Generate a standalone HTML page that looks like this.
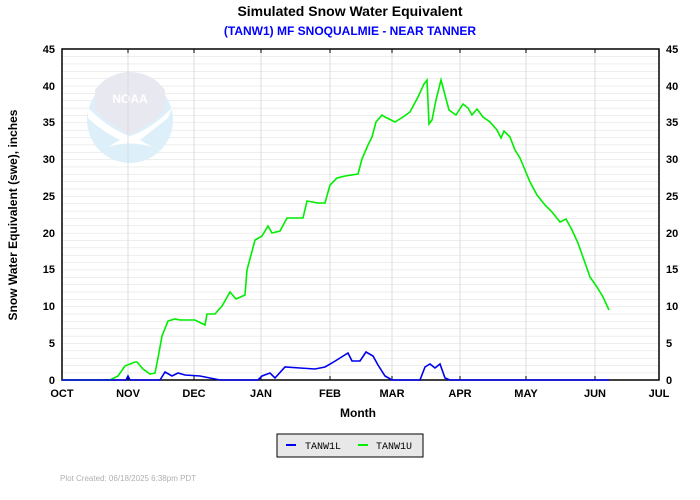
<!DOCTYPE html>
<html><head><style>
body{margin:0;background:#fff;}
svg{display:block;font-family:"Liberation Sans",Arial,sans-serif;}
</style></head><body>
<svg width="700" height="500" xmlns="http://www.w3.org/2000/svg">
<defs>
<pattern id="hg" x="62" y="49" width="700" height="7.356" patternUnits="userSpaceOnUse">
<line x1="0" y1="0" x2="700" y2="0" stroke="#dcdcdc" stroke-width="1"/>
</pattern>
</defs>
<text x="350" y="16" text-anchor="middle" font-size="14" font-weight="bold">Simulated Snow Water Equivalent</text>
<text x="350" y="35" text-anchor="middle" font-size="12" font-weight="bold" fill="#0000ff">(TANW1) MF SNOQUALMIE - NEAR TANNER</text>
<rect x="62" y="49" width="597" height="331" fill="url(#hg)"/>
<g>
<circle cx="130" cy="120" r="43" fill="#ddf0f9"/>
<path d="M95,90 A43,43 0 0 1 165,90 L165,110 Q150,125 130,135 Q110,125 95,110 Z" fill="#e8e8f0"/>
<path d="M88,108 Q110,130 130,136 Q150,130 172,108 L168,118 Q150,132 140,140 L152,147 Q130,140 108,147 L120,140 Q100,130 88,118 Z" fill="#fff"/>
<text x="130" y="103" text-anchor="middle" font-size="12" font-weight="bold" fill="#fff">NOAA</text>
</g>
<g stroke="#dcdcdc" stroke-width="1">
<line x1="128" y1="49" x2="128" y2="380"/><line x1="194" y1="49" x2="194" y2="380"/>
<line x1="261" y1="49" x2="261" y2="380"/><line x1="330" y1="49" x2="330" y2="380"/>
<line x1="392" y1="49" x2="392" y2="380"/><line x1="460" y1="49" x2="460" y2="380"/>
<line x1="526" y1="49" x2="526" y2="380"/><line x1="595" y1="49" x2="595" y2="380"/>
</g>
<rect x="62" y="49" width="597" height="331" fill="none" stroke="#000" stroke-width="1.5"/>
<g stroke="#000" stroke-width="1">
<line x1="128" y1="49" x2="128" y2="53"/><line x1="194" y1="49" x2="194" y2="53"/><line x1="261" y1="49" x2="261" y2="53"/><line x1="330" y1="49" x2="330" y2="53"/><line x1="392" y1="49" x2="392" y2="53"/><line x1="460" y1="49" x2="460" y2="53"/><line x1="526" y1="49" x2="526" y2="53"/><line x1="595" y1="49" x2="595" y2="53"/>
<line x1="128" y1="380" x2="128" y2="376"/><line x1="194" y1="380" x2="194" y2="376"/><line x1="261" y1="380" x2="261" y2="376"/><line x1="330" y1="380" x2="330" y2="376"/><line x1="392" y1="380" x2="392" y2="376"/><line x1="460" y1="380" x2="460" y2="376"/><line x1="526" y1="380" x2="526" y2="376"/><line x1="595" y1="380" x2="595" y2="376"/>
</g>
<g font-size="11" font-weight="bold" text-anchor="end">
<text x="55" y="384">0</text><text x="55" y="347">5</text><text x="55" y="310">10</text><text x="55" y="273">15</text><text x="55" y="237">20</text><text x="55" y="200">25</text><text x="55" y="163">30</text><text x="55" y="126">35</text><text x="55" y="90">40</text><text x="55" y="53">45</text>
</g>
<g font-size="11" font-weight="bold" text-anchor="start">
<text x="666" y="384">0</text><text x="666" y="347">5</text><text x="666" y="310">10</text><text x="666" y="273">15</text><text x="666" y="237">20</text><text x="666" y="200">25</text><text x="666" y="163">30</text><text x="666" y="126">35</text><text x="666" y="90">40</text><text x="666" y="53">45</text>
</g>
<g font-size="11" font-weight="bold" text-anchor="middle">
<text x="62" y="397">OCT</text><text x="128" y="397">NOV</text><text x="194" y="397">DEC</text><text x="261" y="397">JAN</text><text x="330" y="397">FEB</text><text x="392" y="397">MAR</text><text x="460" y="397">APR</text><text x="526" y="397">MAY</text><text x="595" y="397">JUN</text><text x="659" y="397">JUL</text>
</g>
<text x="358" y="417" text-anchor="middle" font-size="12" font-weight="bold">Month</text>
<text transform="translate(17,215) rotate(-90)" text-anchor="middle" font-size="12" font-weight="bold">Snow Water Equivalent (swe),  inches</text>
<polyline fill="none" stroke="#00ee00" stroke-width="1.6" points="62,380 110,380 118,376 125,366 135,362 137,362 143,369 150,374 155,373 158,358 162,336 168,321 175,319 180,320 195,320 205,325 207,314 215,314 222,306 230,292 236,299 245,295 247,270 255,240 262,236 268,226 272,233 280,231 287,218 303,218 307,201 318,203 325,203 330,185 337,178 345,176 358,174 362,159 368,145 372,137 376,122 382,115 385,117 395,122 403,117 410,112 418,97 424,84 427,80 429,124 432,120 436,100 441,80 445,95 449,110 456,115 463,104 468,108 472,115 477,109 483,117 490,122 497,130 501,138 504,131 510,137 515,150 520,158 525,170 530,182 537,195 545,205 552,212 560,222 566,219 572,230 578,243 584,260 590,277 597,287 603,297 609,310"/>
<polyline fill="none" stroke="#0000ee" stroke-width="1.6" points="62,380 126,380 128,376 130,380 160,380 165,372 172,376 178,373 185,375 200,376 210,378 220,380 258,380 262,376 270,373 275,378 285,367 300,368 315,369 325,367 332,363 340,358 348,353 352,361 360,361 366,352 373,356 378,365 385,376 392,380 420,380 425,367 430,364 435,368 440,364 445,378 450,380 609,380"/>
<rect x="277" y="434" width="146" height="23" fill="#e8e8e8" stroke="#000" stroke-width="1"/>
<line x1="286" y1="445" x2="296" y2="445" stroke="#0000ee" stroke-width="2"/>
<text x="305" y="449" font-family="Liberation Mono,monospace" font-size="10">TANW1L</text>
<line x1="358" y1="445" x2="368" y2="445" stroke="#00ee00" stroke-width="2"/>
<text x="376" y="449" font-family="Liberation Mono,monospace" font-size="10">TANW1U</text>
<text x="60" y="481" font-size="8" fill="#b0b0b0">Plot Created: 06/18/2025 6:38pm PDT</text>
</svg>
</body></html>
